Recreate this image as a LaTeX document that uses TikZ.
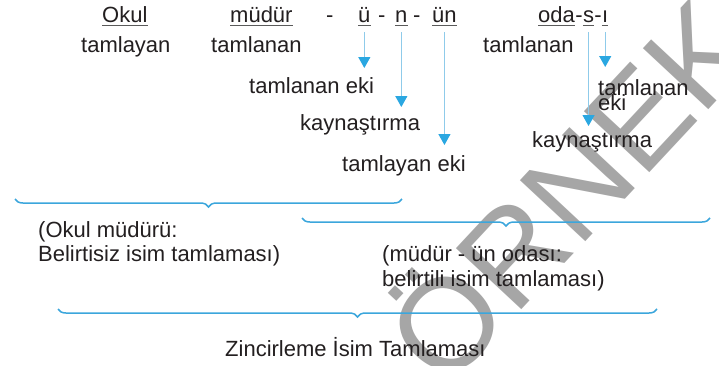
\documentclass[tikz,border=0pt]{standalone}
\usepackage{fontspec}
\setmainfont{Liberation Sans}
\usetikzlibrary{arrows.meta,decorations.pathreplacing}
\definecolor{txt}{HTML}{231F20}
\definecolor{ulgray}{HTML}{5A5A5A}
\definecolor{arrline}{HTML}{8FCBEA}
\definecolor{arrhead}{HTML}{2AA7E1}
\definecolor{bracec}{HTML}{3BA6DC}
\definecolor{wm}{HTML}{A6A6A6}
\begin{document}
\begin{tikzpicture}[x=1pt,y=-1pt,
  lbl/.style={anchor=base west,inner sep=0pt,text=txt,font=\fontsize{22}{25}\selectfont},
  ul/.style={draw=ulgray,line width=1.8pt},
  arr/.style={draw=arrline,line width=1.2pt,-{Triangle[width=12pt,length=11pt,color=arrhead]}},
  brc/.style={draw=bracec,line width=1.5pt,decorate,decoration={brace,mirror,amplitude=8pt}},
  wmark/.style={anchor=base west,inner sep=0pt,text=wm,rotate=47,font=\fontsize{130}{130}\selectfont}]
\useasboundingbox (0,0) rectangle (719,365);
\fill[white] (0,0) rectangle (719,365);
\begin{scope}
\clip (0,0) rectangle (719,365);
\node[wmark] (wmk) at (445,392) {ÖRNEKTİR};
\end{scope}

% top row
\node[lbl] (okul) at (102,22) {Okul};
\node[lbl] (tlayan) at (81,52) {tamlayan};
\node[lbl] (mudur) at (230,22) {müdür};
\node[lbl] (tlanan) at (211,52) {tamlanan};
\node[lbl] (d0) at (326,22) {-};
\node[lbl] (u) at (358,22) {ü};
\node[lbl] (d1) at (378,22) {-};
\node[lbl] (n) at (395,22) {n};
\node[lbl] (d2) at (413,22) {-};
\node[lbl] (un) at (432,22) {ün};
\node[lbl] (oda) at (538,22) {oda};
\node[lbl] (d3) at (oda.base east) {-};
\node[lbl] (s) at (d3.base east) {s};
\node[lbl] (d4) at (s.base east) {-};
\node[lbl] (i) at (d4.base east) {ı};
\node[lbl] (tlanan2) at (483,52) {tamlanan};

\foreach \w in {okul,mudur,u,n,un,oda,s,i}
  \draw[ul] ([yshift=-3.5pt]\w.base west) -- ([yshift=-3.5pt]\w.base east);

% labels under arrows
\node[lbl] (teki) at (249,93) {tamlanan eki};
\node[lbl] (kayn) at (300,130) {kaynaştırma};
\node[lbl] (tyeki) at (342,171) {tamlayan eki};
\node[lbl] (teki2a) at (598,95) {tamlanan};
\node[lbl] (teki2b) at (598,110) {eki};
\node[lbl] (kayn2) at (532,147) {kaynaştırma};

\coordinate (tu) at (0,68);
\coordinate (tn) at (0,107);
\coordinate (tun) at (0,145);
\coordinate (ts) at (0,126);
\coordinate (ti) at (0,67);
\draw[arr] ([yshift=-10pt]u.base) -- (u.base |- tu);
\draw[arr] ([yshift=-10pt]n.base) -- (n.base |- tn);
\draw[arr] ([yshift=-10pt]un.base) -- (un.base |- tun);
\draw[arr] ([yshift=-10pt]s.base) -- (s.base |- ts);
\draw[arr] ([yshift=-10pt]i.base) -- (i.base |- ti);

% braces
\coordinate (b1l) at (15,199);
\coordinate (b1r) at (402,199);
\coordinate (b2l) at (302,218);
\coordinate (b2r) at (710,218);
\coordinate (b3l) at (58,309);
\coordinate (b3r) at (657,309);
\draw[brc] (b1l) -- (b1r);
\draw[brc] (b2l) -- (b2r);
\draw[brc] (b3l) -- (b3r);

% bottom texts
\node[lbl] (p1a) at (38,237) {(Okul müdürü:};
\node[lbl] (p1b) at (38,261) {Belirtisiz isim tamlaması)};
\node[lbl] (p2a) at (382,261) {(müdür - ün odası:};
\node[lbl] (p2b) at (382,286) {belirtili isim tamlaması)};
\node[lbl] (zinc) at (225,356) {Zincirleme İsim Tamlaması};
\end{tikzpicture}
\end{document}
